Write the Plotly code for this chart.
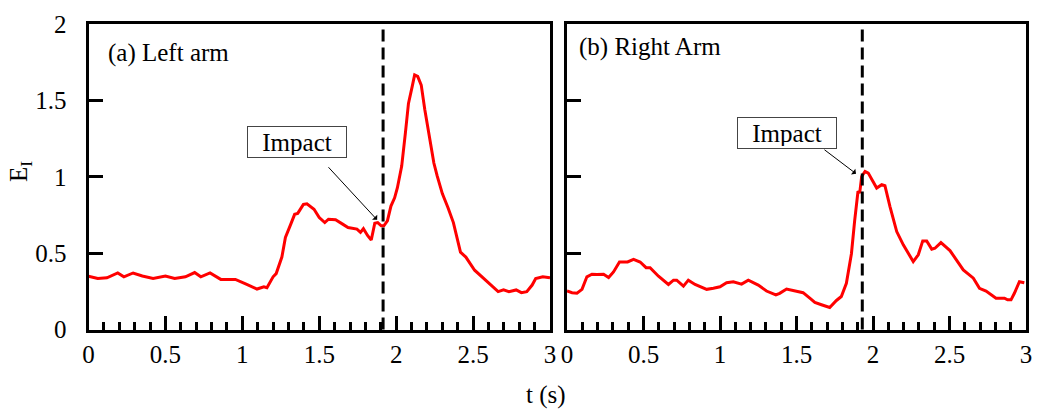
import plotly.graph_objects as go

# ---------------- data ----------------
left_t = [0.0, 0.06, 0.12, 0.19, 0.23, 0.29, 0.35, 0.42, 0.50, 0.56, 0.63, 0.69, 0.73, 0.79,
          0.86, 0.955, 1.025, 1.095, 1.14, 1.16, 1.20, 1.22, 1.257, 1.28, 1.315, 1.34, 1.36,
          1.397, 1.42, 1.466, 1.50, 1.536, 1.56, 1.606, 1.652, 1.687, 1.745, 1.768, 1.787,
          1.815, 1.838, 1.861, 1.88, 1.903, 1.92, 1.943, 1.966, 1.99, 2.008, 2.036, 2.06,
          2.08, 2.104, 2.12, 2.14, 2.163, 2.186, 2.21, 2.245, 2.267, 2.30, 2.337, 2.372,
          2.418, 2.453, 2.51, 2.559, 2.628, 2.663, 2.698, 2.733, 2.78, 2.814, 2.849, 2.884,
          2.907, 2.953, 3.0]
left_e = [0.349, 0.334, 0.338, 0.37, 0.345, 0.37, 0.35, 0.334, 0.35, 0.334, 0.345, 0.373,
          0.345, 0.37, 0.328, 0.328, 0.297, 0.265, 0.28, 0.274, 0.345, 0.366, 0.474, 0.603,
          0.69, 0.754, 0.76, 0.819, 0.823, 0.787, 0.733, 0.70, 0.722, 0.718, 0.69, 0.668,
          0.657, 0.636, 0.66, 0.614, 0.586, 0.696, 0.70, 0.679, 0.679, 0.711, 0.808, 0.862,
          0.928, 1.07, 1.287, 1.48, 1.59, 1.667, 1.657, 1.60, 1.44, 1.287, 1.09, 1.004,
          0.89, 0.797, 0.70, 0.506, 0.474, 0.388, 0.345, 0.284, 0.248, 0.259, 0.248, 0.259,
          0.241, 0.248, 0.291, 0.334, 0.345, 0.338]

right_t = [0.0, 0.033, 0.065, 0.098, 0.13, 0.163, 0.196, 0.239, 0.272, 0.304, 0.343, 0.396,
           0.435, 0.478, 0.517, 0.543, 0.598, 0.663, 0.696, 0.717, 0.761, 0.793, 0.837, 0.913,
           0.957, 1.0, 1.043, 1.087, 1.141, 1.185, 1.25, 1.304, 1.365, 1.39, 1.435, 1.489,
           1.543, 1.587, 1.62, 1.663, 1.717, 1.761, 1.793, 1.826, 1.859, 1.88, 1.902, 1.913,
           1.926, 1.948, 1.969, 2.0, 2.024, 2.057, 2.078, 2.111, 2.155, 2.198, 2.263, 2.296,
           2.325, 2.351, 2.384, 2.405, 2.444, 2.503, 2.547, 2.59, 2.656, 2.696, 2.739, 2.804,
           2.859, 2.88, 2.902, 2.924, 2.957, 2.989]
right_e = [0.252, 0.241, 0.237, 0.263, 0.345, 0.362, 0.36, 0.362, 0.34, 0.377, 0.442, 0.442,
           0.459, 0.442, 0.405, 0.405, 0.349, 0.295, 0.323, 0.323, 0.284, 0.323, 0.295, 0.263,
           0.27, 0.28, 0.306, 0.312, 0.297, 0.323, 0.291, 0.252, 0.226, 0.237, 0.265, 0.252,
           0.241, 0.205, 0.177, 0.162, 0.144, 0.19, 0.216, 0.302, 0.496, 0.711, 0.905, 0.893,
           1.002, 1.035, 1.024, 0.969, 0.926, 0.948, 0.941, 0.805, 0.641, 0.554, 0.445, 0.489,
           0.58, 0.58, 0.526, 0.532, 0.569, 0.517, 0.456, 0.39, 0.336, 0.27, 0.252, 0.205,
           0.205, 0.194, 0.194, 0.237, 0.313, 0.306]

impact_t = [1.915, 1.93]          # dashed impact lines (s)
panel_labels = ["(a) Left arm", "(b) Right Arm"]
x_ticks = [0, 0.5, 1, 1.5, 2, 2.5, 3]
y_ticks = [0, 0.5, 1, 1.5, 2]

# ---------------- figure ----------------
W, H = 1037, 410
FONT = "Liberation Serif, Times New Roman, serif"

def px_x(p):
    return p / W

def px_y(p):
    return 1 - p / H

fig = go.Figure()
fig.add_trace(go.Scatter(x=left_t, y=left_e, mode="lines", xaxis="x", yaxis="y",
                         line=dict(color="#ff0000", width=3), showlegend=False))
fig.add_trace(go.Scatter(x=right_t, y=right_e, mode="lines", xaxis="x2", yaxis="y2",
                         line=dict(color="#ff0000", width=3), showlegend=False))

xcommon = dict(range=[0, 3], tickvals=x_ticks, ticks="inside", ticklen=14, tickwidth=3,
               tickcolor="black", showline=True, linewidth=3, linecolor="black", mirror=True,
               showgrid=False, zeroline=False, ticklabelstandoff=0, automargin=False,
               tickfont=dict(family=FONT, size=25, color="black"),
               minor=dict(dtick=0.1, tick0=0, ticks="inside", ticklen=8, tickwidth=2.5,
                          tickcolor="black", showgrid=False))
ycommon = dict(range=[0, 2], tickvals=y_ticks, ticks="inside", ticklen=14, tickwidth=3,
               tickcolor="black", showline=True, linewidth=3, linecolor="black", mirror=True,
               showgrid=False, zeroline=False, ticklabelstandoff=14, automargin=False,
               tickfont=dict(family=FONT, size=25, color="black"))

ydom = [px_y(329.5), px_y(24)]
fig.update_layout(
    width=W, height=H,
    margin=dict(l=0, r=0, t=0, b=0, autoexpand=False),
    paper_bgcolor="white", plot_bgcolor="white",
    font=dict(family=FONT, size=25, color="black"),
    xaxis=dict(domain=[px_x(88.5), px_x(550)], anchor="y", **xcommon),
    yaxis=dict(domain=ydom, anchor="x", **ycommon),
    xaxis2=dict(domain=[px_x(567), px_x(1026)], anchor="y2", **xcommon),
    yaxis2=dict(domain=ydom, anchor="x2", showticklabels=False, **ycommon),
)

# dashed impact lines
for i, xr in enumerate(["x", "x2"]):
    fig.add_shape(type="line", xref=xr, yref=("y" if i == 0 else "y2") + " domain",
                  x0=impact_t[i], x1=impact_t[i], y0=0, y1=1,
                  line=dict(color="black", width=3, dash="12px,6px"))

# panel labels
fig.add_annotation(text=panel_labels[0], xref="paper", yref="paper", x=px_x(106), y=px_y(53),
                   xanchor="left", yanchor="middle", showarrow=False, font=dict(size=25))
fig.add_annotation(text=panel_labels[1], xref="paper", yref="paper", x=px_x(577), y=px_y(47),
                   xanchor="left", yanchor="middle", showarrow=False, font=dict(size=25))

# Impact boxes
for cx, cy in [(296.5, 142), (787, 133)]:
    fig.add_annotation(text="Impact", xref="paper", yref="paper", x=px_x(cx), y=px_y(cy),
                       xanchor="center", yanchor="middle", showarrow=False,
                       bordercolor="#444444", borderwidth=1, borderpad=2, bgcolor="white",
                       width=94, height=26, font=dict(size=25))

# arrows
for (x0, y0, x1, y1, xr, yr) in [(1.551, 1.072, 1.876, 0.718, "x", "y"),
                                 (1.673, 1.184, 1.889, 1.02, "x2", "y2")]:
    fig.add_annotation(text="", x=x1, y=y1, xref=xr, yref=yr, ax=x0, ay=y0,
                       axref=xr, ayref=yr, showarrow=True, arrowhead=1, arrowsize=1.2,
                       arrowwidth=1, arrowcolor="black")

# axis titles
fig.add_annotation(text="E<sub>I</sub>", xref="paper", yref="paper", x=px_x(21), y=px_y(172),
                   xanchor="center", yanchor="middle", showarrow=False, textangle=-90,
                   font=dict(size=25))
fig.add_annotation(text="t (s)", xref="paper", yref="paper", x=px_x(546), y=px_y(395),
                   xanchor="center", yanchor="middle", showarrow=False, font=dict(size=25))

fig.write_html("out.html", config={"displayModeBar": False},
               post_script="document.body.style.margin='0px';")
